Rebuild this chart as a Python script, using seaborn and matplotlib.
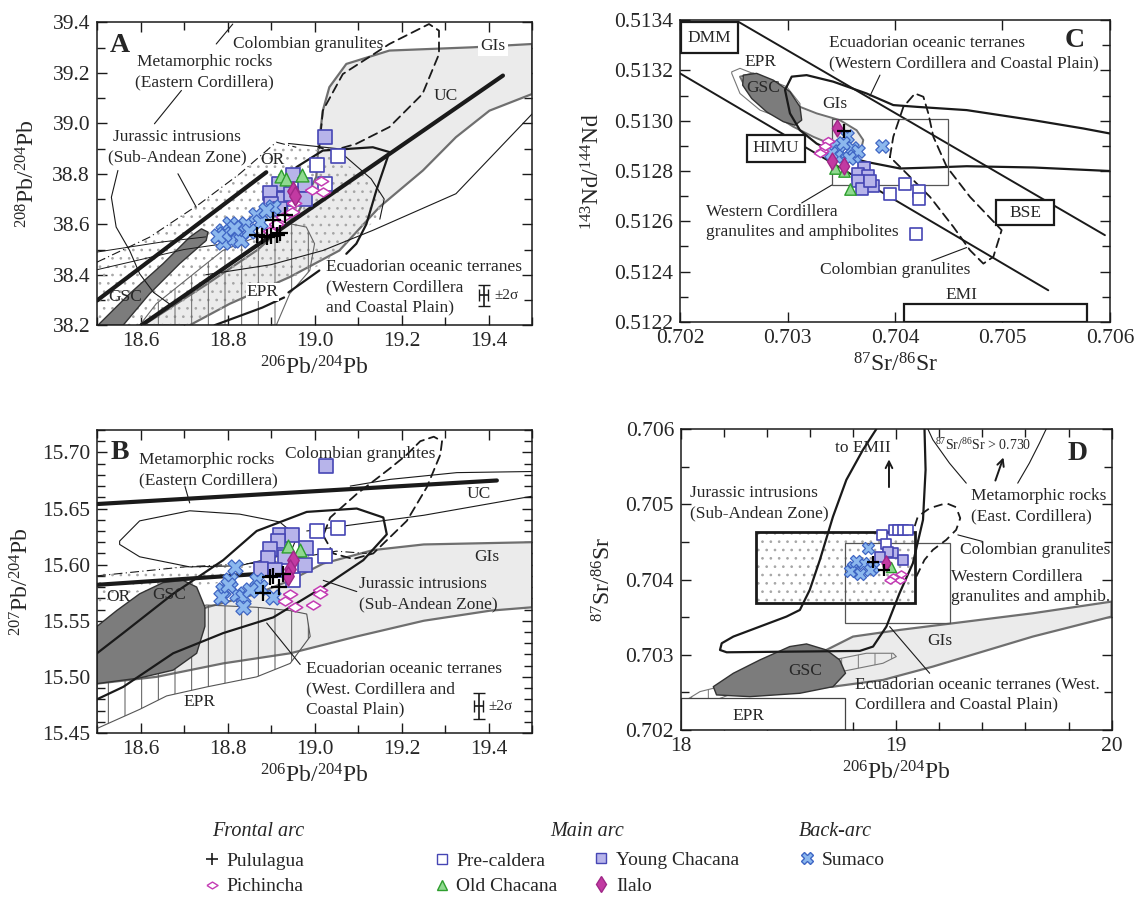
import numpy as np
import pandas as pd
import seaborn as sns
import matplotlib
matplotlib.use('Agg')
import matplotlib.pyplot as plt
from matplotlib.patches import Polygon, Rectangle
from matplotlib.lines import Line2D
from matplotlib.ticker import MultipleLocator, FormatStrFormatter

# ---------------------------------------------------------------- data
# Panel A : 206Pb/204Pb vs 208Pb/204Pb
a_pulu_x = [18.931, 18.904, 18.867, 18.890, 18.913, 18.920, 18.900, 18.880]
a_pulu_y = [38.638, 38.616, 38.556, 38.550, 38.556, 38.565, 38.552, 38.553]
a_pich_x = [19.014, 18.995, 19.019, 18.952, 18.948, 18.927, 18.912, 18.897]
a_pich_y = [38.770, 38.734, 38.727, 38.684, 38.648, 38.628, 38.600, 38.575]
a_prec_x = [19.053, 19.005, 19.025]
a_prec_y = [38.869, 38.834, 38.760]
a_oldc_x = [18.922, 18.935, 18.972]
a_oldc_y = [38.790, 38.780, 38.795]
a_youn_x = [19.025, 18.950, 18.918, 18.897, 18.977, 18.977, 18.930, 18.900, 18.920, 18.945]
a_youn_y = [38.945, 38.797, 38.760, 38.723, 38.754, 38.700, 38.700, 38.680, 38.660, 38.720]
a_ilal_x = [18.950, 18.955]
a_ilal_y = [38.730, 38.712]
a_suma_x = [18.789, 18.805, 18.824, 18.843, 18.866, 18.874, 18.904, 18.809, 18.789,
            18.832, 18.850, 18.793, 18.889, 18.778, 18.815]
a_suma_y = [38.575, 38.600, 38.569, 38.600, 38.635, 38.608, 38.668, 38.536, 38.530,
            38.536, 38.575, 38.562, 38.655, 38.552, 38.585]

# Panel B : 206Pb/204Pb vs 207Pb/204Pb
b_pulu_x = [18.898, 18.928, 18.919, 18.882, 18.905]
b_pulu_y = [15.589, 15.592, 15.580, 15.575, 15.590]
b_pich_x = [18.944, 19.013, 19.013, 18.955, 18.996, 18.932]
b_pich_y = [15.574, 15.577, 15.574, 15.562, 15.564, 15.568]
b_prec_x = [19.005, 19.055, 19.024, 18.951]
b_prec_y = [15.630, 15.633, 15.608, 15.586]
b_oldc_x = [18.940, 18.967]
b_oldc_y = [15.617, 15.613]
b_youn_x = [19.026, 18.921, 18.949, 18.917, 18.898, 18.980, 18.931, 18.894, 18.977, 18.878, 18.909]
b_youn_y = [15.688, 15.626, 15.626, 15.621, 15.614, 15.615, 15.607, 15.606, 15.600, 15.596, 15.595]
b_ilal_x = [18.951, 18.944, 18.940]
b_ilal_y = [15.604, 15.596, 15.590]
b_suma_x = [18.817, 18.805, 18.790, 18.821, 18.836, 18.867, 18.874, 18.905, 18.836, 18.786, 18.851, 18.800]
b_suma_y = [15.598, 15.586, 15.577, 15.574, 15.571, 15.586, 15.580, 15.571, 15.562, 15.571, 15.577, 15.582]

# Panel C : 87Sr/86Sr vs 143Nd/144Nd
c_pulu_x = [0.70353]
c_pulu_y = [0.51296]
c_pich_x = [0.70338, 0.70332, 0.70335, 0.70330]
c_pich_y = [0.51292, 0.51288, 0.51290, 0.51287]
c_prec_x = [0.70395, 0.70409, 0.70422, 0.70422, 0.70420]
c_prec_y = [0.51271, 0.51275, 0.51272, 0.51269, 0.51255]
c_oldc_x = [0.70344, 0.70353, 0.70358]
c_oldc_y = [0.51281, 0.51280, 0.51273]
c_youn_x = [0.70371, 0.70366, 0.70375, 0.70366, 0.70380, 0.70369, 0.70377]
c_youn_y = [0.51281, 0.51279, 0.51278, 0.51276, 0.51274, 0.51273, 0.51276]
c_ilal_x = [0.70346, 0.70341, 0.70353]
c_ilal_y = [0.51297, 0.51284, 0.51282]
c_suma_x = [0.70342, 0.70348, 0.70355, 0.70360, 0.70345, 0.70352, 0.70362, 0.70366, 0.70340, 0.70357, 0.70388]
c_suma_y = [0.51290, 0.51288, 0.51294, 0.51289, 0.51286, 0.51291, 0.51286, 0.51288, 0.51287, 0.51285, 0.51290]

# Panel D : 206Pb/204Pb vs 87Sr/86Sr
d_pulu_x = [18.892, 18.941]
d_pulu_y = [0.70423, 0.70413]
d_pich_x = [18.985, 19.015, 18.969, 19.023]
d_pich_y = [0.70404, 0.70400, 0.70400, 0.70408]
d_prec_x = [18.935, 18.954, 18.990, 19.008, 19.030, 19.054]
d_prec_y = [0.70459, 0.70447, 0.70466, 0.70466, 0.70466, 0.70466]
d_oldc_x = [18.977]
d_oldc_y = [0.70417]
d_youn_x = [18.985, 19.031, 18.960, 18.923]
d_youn_y = [0.70435, 0.70426, 0.70437, 0.70430]
d_ilal_x = [18.954]
d_ilal_y = [0.70422]
d_suma_x = [18.869, 18.800, 18.845, 18.890, 18.784, 18.830, 18.876, 18.815]
d_suma_y = [0.70442, 0.70417, 0.70422, 0.70417, 0.70411, 0.70408, 0.70413, 0.70425]

groups = ['Pre-caldera', 'Young Chacana', 'Old Chacana', 'Sumaco', 'Pichincha', 'Ilalo', 'Pululagua']

# ---------------------------------------------------------------- style
sns.set_theme(style='ticks')
plt.rcParams['font.family'] = ['Liberation Serif', 'DejaVu Serif']
plt.rcParams['mathtext.fontset'] = 'custom'
plt.rcParams['mathtext.rm'] = 'Liberation Serif'
plt.rcParams['mathtext.it'] = 'Liberation Serif:italic'
plt.rcParams['mathtext.bf'] = 'Liberation Serif:bold'
plt.rcParams['hatch.linewidth'] = 0.7
plt.rcParams['axes.linewidth'] = 1.1

wide_diamond = [(-1, 0), (0, 0.62), (1, 0), (0, -0.62), (-1, 0)]
STY = {
    'Pre-caldera':   dict(marker='s', facecolor='white', edgecolor='#4646b4', linewidth=1.2),
    'Young Chacana': dict(marker='s', facecolor='#b7b4ea', edgecolor='#4646b4', linewidth=1.2),
    'Old Chacana':   dict(marker='^', facecolor='#8fd98f', edgecolor='#2e9e2e', linewidth=1.0),
    'Sumaco':        dict(marker='X', facecolor='#8cb8ee', edgecolor='#3f66c4', linewidth=0.9),
    'Pichincha':     dict(marker=wide_diamond, facecolor='white', edgecolor='#c43cb4', linewidth=1.1),
    'Ilalo':         dict(marker='d', facecolor='#c23aa2', edgecolor='#a02888', linewidth=1.0),
    'Pululagua':     dict(marker='+', color='black', linewidth=1.6),
}
SIZE_SCALE = {'Pre-caldera': 1.0, 'Young Chacana': 1.0, 'Old Chacana': 0.9, 'Sumaco': 1.25,
              'Pichincha': 1.15, 'Ilalo': 1.0, 'Pululagua': 1.3}

TXT = 12.5
LH = 14.6   # line height (points) for multi-line labels
GRAY_FILL = '#ebebeb'
GRAY_EDGE = '#6f6f6f'
DARK = '#7c7c7c'
STIP = '#a6a6a6'

fig = plt.figure(figsize=(11.36, 9.06), dpi=100)
axA = fig.add_axes([0.0854, 0.641, 0.383, 0.3344])
axC = fig.add_axes([0.5986, 0.6446, 0.3785, 0.3333])
axB = fig.add_axes([0.0854, 0.191, 0.383, 0.3344])
axD = fig.add_axes([0.5995, 0.1943, 0.379, 0.332])


def poly(ax, pts, fc='none', ec='k', lw=1.0, ls='-', hatch=None, closed=True, z=1, alpha=1):
    if hatch is not None:
        ax.add_patch(Polygon(pts, closed=closed, facecolor=fc, edgecolor=ec, lw=0,
                             hatch=hatch, zorder=z, alpha=alpha))
        fc = 'none'
    ax.add_patch(Polygon(pts, closed=closed, facecolor=fc, edgecolor=ec if lw > 0 else 'none',
                         lw=lw, ls=ls, zorder=z, joinstyle='round', capstyle='round'))


def line(ax, pts, lw=1.0, color='k', ls='-', z=2):
    xs, ys = zip(*pts)
    ax.plot(xs, ys, color=color, lw=lw, ls=ls, zorder=z, solid_capstyle='round',
            solid_joinstyle='round')


def mtext(ax, x, y, lines, ha='left', size=TXT, **kw):
    n = len(lines)
    for i, s in enumerate(lines):
        off = ((n - 1) / 2 - i) * LH
        ax.annotate(s, xy=(x, y), xytext=(0, off), textcoords='offset points', fontsize=size,
                    ha=ha, va='center', zorder=6, **kw)


def plot_points(ax, xs_ys, base):
    for g in groups:
        xs, ys = xs_ys[g]
        df = pd.DataFrame({'x': xs, 'y': ys})
        st = dict(STY[g])
        sns.scatterplot(data=df, x='x', y='y', ax=ax, s=base * SIZE_SCALE[g], zorder=5,
                        legend=False, **st)


def style_axes(ax, xlim, ylim, xmaj, xmin, ymaj, ymin, xfmt, yfmt, xlabel, ylabel, ylpad):
    ax.set_xlim(*xlim)
    ax.set_ylim(*ylim)
    ax.xaxis.set_major_locator(MultipleLocator(xmaj))
    ax.xaxis.set_minor_locator(MultipleLocator(xmin))
    ax.yaxis.set_major_locator(MultipleLocator(ymaj))
    ax.yaxis.set_minor_locator(MultipleLocator(ymin))
    ax.xaxis.set_major_formatter(FormatStrFormatter(xfmt))
    ax.yaxis.set_major_formatter(FormatStrFormatter(yfmt))
    ax.tick_params(which='both', direction='in', top=True, right=True, width=1.0, color='k')
    ax.tick_params(which='major', length=7, labelsize=15.5, pad=5)
    ax.tick_params(which='minor', length=6)
    ax.set_xlabel(xlabel, fontsize=17, labelpad=4)
    ax.set_ylabel(ylabel, fontsize=17, labelpad=ylpad)
    for s in ax.spines.values():
        s.set_color('k')


# ================================================================= Panel A
ax = axA
poly(ax, [(18.606, 38.2), (18.75, 38.36), (18.87, 38.50), (18.96, 38.64), (19.004, 38.787),
          (19.008, 38.892), (19.019, 39.05), (19.034, 39.143), (19.073, 39.235), (19.172, 39.288),
          (19.364, 39.301), (19.5, 39.314), (19.5, 39.116), (19.402, 39.05), (19.325, 38.945),
          (19.249, 38.813), (19.149, 38.668), (19.057, 38.496), (18.943, 38.391), (18.805, 38.285),
          (18.713, 38.2)], fc=GRAY_FILL, ec=GRAY_EDGE, lw=1.6, z=1)
# stippled OR field
poly(ax, [(18.5, 38.2), (18.5, 38.45), (18.621, 38.549), (18.736, 38.681), (18.828, 38.80),
          (18.912, 38.925), (18.958, 38.905), (19.019, 38.892), (19.134, 38.773), (19.157, 38.707),
          (19.149, 38.628), (19.019, 38.443), (18.866, 38.325), (18.713, 38.2)],
     fc='none', ec=STIP, lw=0, hatch='..', z=1.2)
line(ax, [(18.5, 38.45), (18.621, 38.549), (18.736, 38.681), (18.828, 38.80), (18.912, 38.925),
          (18.958, 38.905)], lw=0.8, ls=(0, (8, 3, 1, 3)))
# EPR hatched field
poly(ax, [(18.598, 38.2), (18.636, 38.285), (18.789, 38.496), (18.866, 38.549), (18.943, 38.602),
          (18.981, 38.589), (19.0, 38.523), (18.989, 38.417), (18.943, 38.325), (18.912, 38.2)],
     fc='none', ec='#666666', lw=0.8, hatch='|', z=1.3)
# GSC
poly(ax, [(18.502, 38.2), (18.575, 38.325), (18.652, 38.444), (18.713, 38.549), (18.740, 38.582),
          (18.755, 38.569), (18.751, 38.536), (18.690, 38.444), (18.621, 38.325), (18.560, 38.2)],
     fc=DARK, ec='#333333', lw=1.0, z=1.5)
# thin outlines (Jurassic / metamorphic fields)
line(ax, [(18.548, 38.813), (18.533, 38.707), (18.544, 38.589), (18.575, 38.496), (18.598, 38.404),
          (18.63, 38.33), (18.67, 38.28)], lw=0.8)
line(ax, [(18.5, 38.49), (18.65, 38.53), (18.75, 38.55)], lw=0.7)
line(ax, [(18.5, 38.42), (18.7, 38.50), (18.78, 38.52)], lw=0.7)
line(ax, [(19.5, 39.037), (19.325, 38.721), (19.134, 38.576), (19.019, 38.496), (18.9, 38.44),
          (18.75, 38.40)], lw=0.8)
line(ax, [(18.94, 38.92), (19.05, 38.90), (19.13, 38.78), (19.16, 38.70), (19.15, 38.62)], lw=0.8)
line(ax, [(18.812, 39.393), (18.774, 39.314)], lw=0.8)
line(ax, [(18.694, 39.13), (18.632, 38.998)], lw=0.8)
line(ax, [(18.686, 38.80), (18.728, 38.668)], lw=0.8)
# Colombian granulites (dashed)
poly(ax, [(19.011, 38.904), (19.019, 39.05), (19.065, 39.195), (19.172, 39.314), (19.263, 39.393),
          (19.286, 39.367), (19.286, 39.274), (19.248, 39.116), (19.172, 38.985), (19.095, 38.918),
          (19.042, 38.892)], ec='k', lw=1.3, ls=(0, (5, 3)), z=2)
# Ecuadorian oceanic terranes
line(ax, [(18.958, 38.826), (19.019, 38.892), (19.134, 38.905), (19.172, 38.886), (19.142, 38.734),
          (19.119, 38.60), (19.096, 38.523), (19.073, 38.483)], lw=1.6)
line(ax, [(18.77, 38.2), (18.88, 38.27), (18.93, 38.31)], lw=1.6)
line(ax, [(18.94, 38.33), (19.011, 38.417)], lw=1.6)
# thick reference lines
line(ax, [(18.5, 38.298), (18.889, 38.806)], lw=3.0, z=3)
line(ax, [(18.602, 38.2), (19.433, 39.189)], lw=3.0, z=3)

plot_points(ax, {'Pululagua': (a_pulu_x, a_pulu_y), 'Pichincha': (a_pich_x, a_pich_y),
                 'Pre-caldera': (a_prec_x, a_prec_y), 'Old Chacana': (a_oldc_x, a_oldc_y),
                 'Young Chacana': (a_youn_x, a_youn_y), 'Ilalo': (a_ilal_x, a_ilal_y),
                 'Sumaco': (a_suma_x, a_suma_y)}, 95)
ax.errorbar([19.389], [38.318], yerr=[[0.04]], xerr=[[0.01]], color='k', lw=1.2, capsize=4, zorder=4)

ax.text(18.53, 39.31, 'A', fontsize=20, fontweight='bold', va='center', ha='left', zorder=6)
mtext(ax, 18.986, 39.314, ['Colombian granulites'], ha='center')
mtext(ax, 18.747, 39.202, ['Metamorphic rocks', '(Eastern Cordillera)'], ha='center')
mtext(ax, 18.684, 38.905, ['Jurassic intrusions', '(Sub-Andean Zone)'], ha='center')
mtext(ax, 18.903, 38.855, ['OR'], ha='center')
mtext(ax, 19.302, 39.11, ['UC'], ha='center')
mtext(ax, 19.41, 39.308, ['GIs'], ha='center', bbox=dict(fc='white', ec='none', pad=1.5))
mtext(ax, 18.564, 38.312, ['GSC'], ha='center')
mtext(ax, 18.881, 38.331, ['EPR'], ha='center', bbox=dict(fc='white', ec='none', pad=0.5))
mtext(ax, 19.027, 38.35, ['Ecuadorian oceanic terranes', '(Western Cordillera', 'and Coastal Plain)'])
ax.text(19.413, 38.318, '±2σ', fontsize=11, ha='left', va='center', zorder=6)
style_axes(ax, (18.5, 19.5), (38.2, 39.4), 0.2, 0.1, 0.2, 0.1, '%.1f', '%.1f',
           r'$^{206}$Pb/$^{204}$Pb', r'$^{208}$Pb/$^{204}$Pb', 9)

# ================================================================= Panel B
ax = axB
poly(ax, [(18.5, 15.503), (18.56, 15.524), (18.637, 15.545), (18.752, 15.562), (18.867, 15.574),
          (18.944, 15.586), (19.02, 15.601), (19.135, 15.613), (19.251, 15.618), (19.5, 15.62),
          (19.5, 15.562), (19.404, 15.559), (19.251, 15.55), (19.097, 15.536), (18.944, 15.521),
          (18.79, 15.512), (18.637, 15.5), (18.5, 15.494)], fc=GRAY_FILL, ec=GRAY_EDGE, lw=1.6, z=1)
# EPR hatched
poly(ax, [(18.5, 15.454), (18.598, 15.471), (18.66, 15.483), (18.752, 15.491), (18.867, 15.5),
          (18.944, 15.512), (18.99, 15.536), (18.982, 15.556), (18.944, 15.559), (18.867, 15.562),
          (18.752, 15.564), (18.637, 15.556), (18.5, 15.545)], fc='none', ec='#555555', lw=0.8,
     hatch='|', z=1.3)
# OR stipple
poly(ax, [(18.5, 15.596), (18.75, 15.598), (18.88, 15.599), (18.88, 15.588), (18.7, 15.580),
          (18.6, 15.576), (18.5, 15.566)], fc='none', ec=STIP, lw=0, hatch='..', z=1.2)
# GSC
poly(ax, [(18.5, 15.545), (18.545, 15.559), (18.598, 15.574), (18.652, 15.584), (18.698, 15.586),
          (18.729, 15.58), (18.748, 15.562), (18.748, 15.545), (18.729, 15.521), (18.675, 15.506),
          (18.598, 15.499), (18.5, 15.494)], fc=DARK, ec='#333333', lw=1.0, z=1.5)
# metamorphic rocks outline
poly(ax, [(18.552, 15.621), (18.598, 15.639), (18.713, 15.648), (18.828, 15.645), (18.92, 15.638),
          (18.96, 15.625), (18.944, 15.61), (18.828, 15.599), (18.713, 15.598), (18.598, 15.607),
          (18.552, 15.618)], ec='k', lw=0.8, z=1.6)
line(ax, [(19.5, 15.683), (19.327, 15.682), (19.174, 15.676), (19.082, 15.67)], lw=0.8)
line(ax, [(19.5, 15.661), (19.251, 15.644), (19.097, 15.636), (18.982, 15.63)], lw=0.8)
line(ax, [(18.5, 15.59), (18.7, 15.598), (18.9, 15.602), (19.05, 15.612), (19.12, 15.61)],
     lw=0.8, ls=(0, (8, 3, 1, 3)))
line(ax, [(18.702, 15.670), (18.713, 15.655)], lw=0.8)
line(ax, [(19.097, 15.576), (19.02, 15.586)], lw=0.8)
line(ax, [(18.967, 15.511), (18.89, 15.548)], lw=0.8)
# Colombian granulites
poly(ax, [(19.02, 15.626), (19.043, 15.61), (19.089, 15.605), (19.135, 15.61), (19.212, 15.639),
          (19.258, 15.669), (19.289, 15.698), (19.293, 15.71), (19.274, 15.714), (19.243, 15.71),
          (19.212, 15.698), (19.174, 15.686), (19.097, 15.663), (19.036, 15.642)],
     ec='k', lw=1.3, ls=(0, (5, 3)), z=2)
# Ecuadorian oceanic terranes
line(ax, [(18.5, 15.521), (18.56, 15.539), (18.675, 15.574), (18.79, 15.604), (18.867, 15.63),
          (18.982, 15.647), (19.097, 15.65), (19.158, 15.642), (19.166, 15.627), (19.112, 15.604),
          (19.02, 15.58), (18.905, 15.553), (18.79, 15.539), (18.675, 15.521), (18.56, 15.491),
          (18.5, 15.48)], lw=1.6)
# thick reference lines
line(ax, [(18.5, 15.654), (19.419, 15.675)], lw=3.0, z=3)
line(ax, [(18.5, 15.582), (18.882, 15.592)], lw=3.0, z=3)

plot_points(ax, {'Pululagua': (b_pulu_x, b_pulu_y), 'Pichincha': (b_pich_x, b_pich_y),
                 'Pre-caldera': (b_prec_x, b_prec_y), 'Old Chacana': (b_oldc_x, b_oldc_y),
                 'Young Chacana': (b_youn_x, b_youn_y), 'Ilalo': (b_ilal_x, b_ilal_y),
                 'Sumaco': (b_suma_x, b_suma_y)}, 95)
ax.errorbar([19.377], [15.474], yerr=[[0.0118]], xerr=[[0.01]], color='k', lw=1.2, capsize=4, zorder=4)

ax.text(18.53, 15.700, 'B', fontsize=20, fontweight='bold', va='center', ha='left', zorder=6)
mtext(ax, 18.597, 15.684, ['Metamorphic rocks', '(Eastern Cordillera)'])
mtext(ax, 19.105, 15.699, ['Colombian granulites'], ha='center')
mtext(ax, 19.377, 15.663, ['UC'], ha='center')
mtext(ax, 19.396, 15.607, ['GIs'], ha='center')
mtext(ax, 18.548, 15.571, ['OR'], ha='center')
mtext(ax, 18.667, 15.573, ['GSC'], ha='center')
mtext(ax, 19.101, 15.574, ['Jurassic intrusions', '(Sub-Andean Zone)'])
mtext(ax, 18.98, 15.489, ['Ecuadorian oceanic terranes', '(West. Cordillera and', 'Coastal Plain)'])
mtext(ax, 18.736, 15.478, ['EPR'], ha='center')
ax.text(19.40, 15.474, '±2σ', fontsize=11, ha='left', va='center', zorder=6)
style_axes(ax, (18.5, 19.5), (15.45, 15.72), 0.2, 0.1, 0.05, 0.01, '%.1f', '%.2f',
           r'$^{206}$Pb/$^{204}$Pb', r'$^{207}$Pb/$^{204}$Pb', 6)

# ================================================================= Panel C
ax = axC
# EPR outline
poly(ax, [(0.702481, 0.513194), (0.702558, 0.513208), (0.702992, 0.513135), (0.703116, 0.513068),
          (0.703116, 0.513002), (0.702992, 0.513002), (0.702744, 0.513042), (0.702558, 0.513108),
          (0.702481, 0.513188)], ec='#777777', lw=0.8, z=1)
# GIs
poly(ax, [(0.702682, 0.513188), (0.70293, 0.513135), (0.703116, 0.513055), (0.703271, 0.513029),
          (0.703488, 0.513002), (0.703643, 0.512962), (0.703705, 0.512923), (0.70369, 0.512896),
          (0.703612, 0.512883), (0.703426, 0.512903), (0.70324, 0.512936), (0.703054, 0.512976),
          (0.702806, 0.513042), (0.70262, 0.513122), (0.702558, 0.513175)],
     fc=GRAY_FILL, ec=GRAY_EDGE, lw=1.4, z=1.1)
# GSC
poly(ax, [(0.702589, 0.513181), (0.702713, 0.513188), (0.702868, 0.513161), (0.703023, 0.513115),
          (0.703116, 0.513055), (0.703132, 0.513002), (0.70307, 0.512982), (0.702961, 0.512996),
          (0.702806, 0.513035), (0.702667, 0.513088), (0.702583, 0.513141)],
     fc=DARK, ec='#333333', lw=1.0, z=1.5)
# mantle array lines
line(ax, [(0.702543, 0.513393), (0.705953, 0.512545)], lw=1.4)
line(ax, [(0.702, 0.513188), (0.705426, 0.512326)], lw=1.4)
# Ecuadorian oceanic terranes
line(ax, [(0.706, 0.512949), (0.705752, 0.512969), (0.705287, 0.513002), (0.704667, 0.513042),
          (0.704202, 0.513055), (0.703984, 0.513062), (0.703736, 0.513108), (0.703426, 0.513155),
          (0.703178, 0.513181), (0.703039, 0.513175), (0.702977, 0.513122), (0.703023, 0.513029),
          (0.703116, 0.512962), (0.703271, 0.512909), (0.703488, 0.512863), (0.703736, 0.512836),
          (0.704047, 0.51281), (0.704357, 0.512814), (0.704667, 0.512819), (0.705287, 0.512814),
          (0.706, 0.5128)], lw=1.6, z=2)
# Western Cordillera granulites box
ax.add_patch(Rectangle((0.703411, 0.512744), 0.001085, 0.000261, fc='none', ec='#555555', lw=0.9, zorder=2))
line(ax, [(0.703411, 0.512744), (0.703132, 0.512673)], lw=0.8)
# Colombian granulites
poly(ax, [(0.703953, 0.512856), (0.703984, 0.512936), (0.704078, 0.513055), (0.704186, 0.513108),
          (0.704264, 0.513095), (0.70431, 0.513029), (0.704357, 0.512936), (0.704481, 0.512817),
          (0.704698, 0.512697), (0.704992, 0.512565), (0.704915, 0.512459), (0.704822, 0.512432),
          (0.704698, 0.512485), (0.704543, 0.512578), (0.704326, 0.512697), (0.704109, 0.51279)],
     ec='k', lw=1.3, ls=(0, (5, 3)), z=2)
line(ax, [(0.704341, 0.512443), (0.704667, 0.512496)], lw=0.8)
line(ax, [(0.70386, 0.513181), (0.703767, 0.513098)], lw=0.8)
# reservoir boxes
for (x0, y0, x1, y1, lab) in [(0.702009, 0.513267, 0.702543, 0.513393, 'DMM'),
                              (0.70262, 0.512836, 0.703163, 0.512943, 'HIMU'),
                              (0.70494, 0.512585, 0.705479, 0.512684, 'BSE')]:
    ax.add_patch(Rectangle((x0, y0), x1 - x0, y1 - y0, fc='white', ec='k', lw=1.6, zorder=4))
    ax.text((x0 + x1) / 2, (y0 + y1) / 2, lab, fontsize=TXT, ha='center', va='center', zorder=6)
ax.add_patch(Rectangle((0.704084, 0.5122), 0.001699, 0.00007, fc='white', ec='k', lw=1.6, zorder=4))

plot_points(ax, {'Pululagua': (c_pulu_x, c_pulu_y), 'Pichincha': (c_pich_x, c_pich_y),
                 'Pre-caldera': (c_prec_x, c_prec_y), 'Old Chacana': (c_oldc_x, c_oldc_y),
                 'Young Chacana': (c_youn_x, c_youn_y), 'Ilalo': (c_ilal_x, c_ilal_y),
                 'Sumaco': (c_suma_x, c_suma_y)}, 75)

ax.text(0.70567, 0.51332, 'C', fontsize=20, fontweight='bold', va='center', ha='center', zorder=6)
mtext(ax, 0.703386, 0.513267, ['Ecuadorian oceanic terranes', '(Western Cordillera and Coastal Plain)'])
mtext(ax, 0.702744, 0.513234, ['EPR'], ha='center')
mtext(ax, 0.702775, 0.513128, ['GSC'], ha='center')
mtext(ax, 0.703442, 0.513068, ['GIs'], ha='center')
mtext(ax, 0.70462, 0.512306, ['EMI'], ha='center')
mtext(ax, 0.702242, 0.512598, ['Western Cordillera', 'granulites and amphibolites'])
mtext(ax, 0.70400, 0.512406, ['Colombian granulites'], ha='center')
style_axes(ax, (0.702, 0.706), (0.5122, 0.5134), 0.001, 0.001, 0.0002, 0.0001, '%.3f', '%.4f',
           r'$^{87}$Sr/$^{86}$Sr', r'$^{143}$Nd/$^{144}$Nd', 7)

# ================================================================= Panel D
ax = axD
poly(ax, [(18.55, 0.70285), (18.645, 0.70302), (18.799, 0.703242), (19.015, 0.70333),
          (19.325, 0.703441), (19.634, 0.703552), (20.0, 0.703707), (20.0, 0.703508),
          (19.634, 0.703242), (19.17, 0.702843), (18.938, 0.702665), (18.706, 0.702576),
          (18.55, 0.70255)], fc=GRAY_FILL, ec=GRAY_EDGE, lw=1.6, z=1)
poly(ax, [(18.0, 0.702355), (18.088, 0.70251), (18.243, 0.702621), (18.397, 0.702709),
          (18.629, 0.702887), (18.861, 0.70302), (18.985, 0.70302), (19.0, 0.702976),
          (18.938, 0.702887), (18.706, 0.702754), (18.397, 0.702621), (18.243, 0.702488),
          (18.0, 0.702222)], fc='none', ec='#777777', lw=0.8, hatch='|', z=1.2)
poly(ax, [(18.15, 0.702576), (18.243, 0.702754), (18.366, 0.702931), (18.505, 0.703109),
          (18.583, 0.703144), (18.675, 0.703064), (18.737, 0.702931), (18.764, 0.702754),
          (18.706, 0.702576), (18.552, 0.702488), (18.32, 0.702443), (18.165, 0.702466)],
     fc=DARK, ec='#333333', lw=1.0, z=1.5)
# EPR box
ax.add_patch(Rectangle((18.0, 0.702), 0.764, 0.000421, fc='white', ec='#444444', lw=0.9, zorder=1.6))
# stippled box and thin box
ax.add_patch(Rectangle((18.346, 0.703685), 0.739, 0.000954, fc='none', ec=STIP, lw=0,
                       hatch='..', zorder=1.7))
ax.add_patch(Rectangle((18.346, 0.703685), 0.739, 0.000954, fc='none', ec='k', lw=2.0, zorder=2.5))
ax.add_patch(Rectangle((18.764, 0.703419), 0.486, 0.001073, fc='none', ec='#555555', lw=0.9, zorder=2))
# Jurassic intrusions
line(ax, [(18.907, 0.706), (18.845, 0.705725), (18.768, 0.705326), (18.706, 0.704838),
          (18.645, 0.704262), (18.598, 0.703863), (18.552, 0.703596), (18.49, 0.703508),
          (18.243, 0.703242), (18.189, 0.703153), (18.181, 0.703064), (18.212, 0.703033),
          (18.83, 0.703051), (18.892, 0.703109), (18.954, 0.703375), (19.015, 0.703818),
          (19.077, 0.704217), (19.124, 0.704794), (19.136, 0.705459), (19.131, 0.706)], lw=1.6)
# Colombian granulites
line(ax, [(19.093, 0.70404), (19.131, 0.704262), (19.17, 0.704395), (19.232, 0.704528),
          (19.278, 0.704661), (19.297, 0.704816), (19.278, 0.704962), (19.232, 0.705016),
          (19.155, 0.704949), (19.1, 0.704838), (19.085, 0.704705)], lw=1.3, ls=(0, (5, 3)))
line(ax, [(19.286, 0.704594), (19.402, 0.704506)], lw=0.8)
# metamorphic rocks
line(ax, [(19.147, 0.706), (19.17, 0.705858), (19.247, 0.705548), (19.325, 0.705282)], lw=0.8)
line(ax, [(19.696, 0.706), (19.665, 0.705814), (19.618, 0.705548), (19.564, 0.705282)], lw=0.8)
line(ax, [(18.969, 0.703375), (19.155, 0.702754)], lw=0.8)
ax.annotate('', xy=(18.966, 0.705636), xytext=(18.966, 0.705193),
            arrowprops=dict(arrowstyle='->', lw=1.4, color='k'))
ax.annotate('', xy=(19.502, 0.705659), xytext=(19.456, 0.705282),
            arrowprops=dict(arrowstyle='->', lw=1.4, color='k'))

plot_points(ax, {'Pululagua': (d_pulu_x, d_pulu_y), 'Pichincha': (d_pich_x, d_pich_y),
                 'Pre-caldera': (d_prec_x, d_prec_y), 'Old Chacana': (d_oldc_x, d_oldc_y),
                 'Young Chacana': (d_youn_x, d_youn_y), 'Ilalo': (d_ilal_x, d_ilal_y),
                 'Sumaco': (d_suma_x, d_suma_y)}, 60)

ax.text(19.842, 0.70568, 'D', fontsize=20, fontweight='bold', va='center', ha='center', zorder=6)
mtext(ax, 18.845, 0.70575, ['to EMII'], ha='center')
ax.text(19.402, 0.70579, r'$^{87}$Sr/$^{86}$Sr > 0.730', fontsize=10, ha='center', va='center', zorder=6)
mtext(ax, 19.348, 0.70498, ['Metamorphic rocks', '(East. Cordillera)'])
mtext(ax, 18.042, 0.70502, ['Jurassic intrusions', '(Sub-Andean Zone)'])
mtext(ax, 19.294, 0.70439, ['Colombian granulites'])
mtext(ax, 19.255, 0.7039, ['Western Cordillera', 'granulites and amphib.'])
mtext(ax, 19.2, 0.70318, ['GIs'], ha='center')
mtext(ax, 18.575, 0.70278, ['GSC'], ha='center')
mtext(ax, 18.807, 0.70247, ['Ecuadorian oceanic terranes (West.', 'Cordillera and Coastal Plain)'])
mtext(ax, 18.312, 0.70218, ['EPR'], ha='center')
style_axes(ax, (18, 20), (0.702, 0.706), 1, 0.2, 0.001, 0.0005, '%.0f', '%.3f',
           r'$^{206}$Pb/$^{204}$Pb', r'$^{87}$Sr/$^{86}$Sr', 7)

# ================================================================= Legend
def handle(g, ms):
    st = STY[g]
    if g == 'Pululagua':
        return Line2D([], [], marker='+', ls='', color='k', markersize=ms, markeredgewidth=1.2)
    return Line2D([], [], marker=st['marker'], ls='', markerfacecolor=st['facecolor'],
                  markeredgecolor=st['edgecolor'], markersize=ms, markeredgewidth=1.0)

LEG = 14
common = dict(loc='upper left', frameon=False, fontsize=LEG, handlelength=0.8, handletextpad=0.35,
              borderpad=0, borderaxespad=0, labelspacing=0.42)
fig.legend([handle('Pululagua', 9), handle('Pichincha', 8)], ['Pululagua', 'Pichincha'],
           bbox_to_anchor=(0.1796, 0.0595), **common)
fig.legend([handle('Pre-caldera', 7), handle('Old Chacana', 7)], ['Pre-caldera', 'Old Chacana'],
           bbox_to_anchor=(0.3820, 0.0595), **common)
fig.legend([handle('Young Chacana', 7), handle('Ilalo', 8)], ['Young Chacana', 'Ilalo'],
           bbox_to_anchor=(0.5225, 0.0605), **common)
fig.legend([handle('Sumaco', 8)], ['Sumaco'], bbox_to_anchor=(0.7035, 0.0605), **common)
for xh, txt in [(0.227, 'Frontal arc'), (0.517, 'Main arc'), (0.735, 'Back-arc')]:
    fig.text(xh, 0.0817, txt, fontsize=14.5, style='italic', ha='center', va='center')

fig.savefig('out.png', dpi=100)
